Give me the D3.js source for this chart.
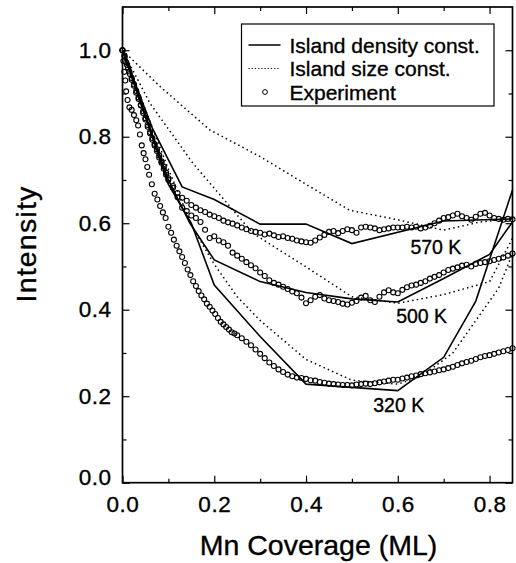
<!DOCTYPE html>
<html>
<head>
<meta charset="utf-8">
<script src="https://cdn.jsdelivr.net/npm/d3@7"></script>
<style>
  body { margin: 0; background: #fff; }
  svg { font-family: "Liberation Sans", Arial, Helvetica, sans-serif; }
  svg text { fill: #000; stroke: #000; stroke-width: 0.35px; }
  .axis path { display: none; }
  .axis line { stroke: #000; stroke-width: 1.2; }
  .axis text { font-size: 22.5px; letter-spacing: 0.5px; }
</style>
</head>
<body>
<div id="chart"></div>
<script>
(function () {
  // experiment points [coverage, intensity]
  const exp320 = [
    [0.000, 1.000], [0.002, 0.975], [0.004, 0.950], [0.006, 0.930], [0.008, 0.905],
    [0.011, 0.885], [0.015, 0.868], [0.020, 0.862], [0.025, 0.850], [0.030, 0.838],
    [0.034, 0.826], [0.038, 0.805], [0.042, 0.780], [0.046, 0.762], [0.050, 0.748],
    [0.054, 0.730], [0.058, 0.712], [0.064, 0.690], [0.070, 0.668], [0.076, 0.655],
    [0.082, 0.640], [0.088, 0.625], [0.094, 0.612], [0.100, 0.592], [0.106, 0.578],
    [0.112, 0.562], [0.118, 0.548], [0.124, 0.535], [0.130, 0.522], [0.136, 0.508],
    [0.142, 0.493], [0.148, 0.480], [0.154, 0.466], [0.160, 0.455], [0.166, 0.443],
    [0.172, 0.433], [0.178, 0.424], [0.184, 0.414], [0.190, 0.407], [0.196, 0.398],
    [0.202, 0.390], [0.208, 0.381], [0.214, 0.372], [0.220, 0.366], [0.226, 0.360],
    [0.232, 0.354], [0.238, 0.348], [0.244, 0.345], [0.250, 0.341], [0.260, 0.334],
    [0.270, 0.326], [0.280, 0.318], [0.290, 0.308], [0.300, 0.298], [0.310, 0.288],
    [0.320, 0.278], [0.330, 0.270], [0.340, 0.262], [0.350, 0.256], [0.360, 0.250],
    [0.370, 0.246], [0.380, 0.243], [0.390, 0.242], [0.400, 0.240], [0.410, 0.237],
    [0.420, 0.236], [0.430, 0.233], [0.440, 0.231], [0.450, 0.229], [0.460, 0.228],
    [0.470, 0.227], [0.480, 0.226], [0.490, 0.226], [0.500, 0.225], [0.510, 0.227],
    [0.520, 0.228], [0.530, 0.229], [0.540, 0.228], [0.550, 0.230], [0.560, 0.232],
    [0.570, 0.234], [0.580, 0.236], [0.590, 0.238], [0.600, 0.238], [0.610, 0.241],
    [0.620, 0.243], [0.630, 0.246], [0.640, 0.248], [0.650, 0.251], [0.660, 0.253],
    [0.670, 0.255], [0.680, 0.257], [0.690, 0.260], [0.700, 0.262], [0.710, 0.265],
    [0.720, 0.268], [0.730, 0.272], [0.740, 0.276], [0.750, 0.279], [0.760, 0.282],
    [0.770, 0.286], [0.780, 0.290], [0.790, 0.293], [0.800, 0.295], [0.810, 0.298],
    [0.820, 0.301], [0.830, 0.304], [0.840, 0.307], [0.850, 0.311]
  ];
  const exp500 = [
    [0.000, 1.000], [0.004, 0.988], [0.008, 0.972], [0.012, 0.960], [0.016, 0.945],
    [0.020, 0.932], [0.025, 0.918], [0.030, 0.902], [0.035, 0.887], [0.040, 0.872],
    [0.045, 0.855], [0.050, 0.840], [0.055, 0.823], [0.060, 0.808], [0.065, 0.793],
    [0.070, 0.780], [0.075, 0.767], [0.080, 0.752], [0.085, 0.740], [0.090, 0.726],
    [0.095, 0.712], [0.100, 0.700], [0.110, 0.682], [0.120, 0.660], [0.130, 0.636],
    [0.140, 0.628], [0.150, 0.618], [0.160, 0.612], [0.170, 0.603], [0.180, 0.585],
    [0.190, 0.566], [0.200, 0.570], [0.210, 0.560], [0.220, 0.556], [0.230, 0.548],
    [0.240, 0.532], [0.250, 0.525], [0.260, 0.518], [0.270, 0.510], [0.280, 0.503],
    [0.290, 0.496], [0.300, 0.486], [0.310, 0.478], [0.320, 0.468], [0.330, 0.462],
    [0.340, 0.458], [0.350, 0.453], [0.360, 0.448], [0.370, 0.442], [0.380, 0.438],
    [0.390, 0.428], [0.400, 0.415], [0.410, 0.422], [0.420, 0.430], [0.430, 0.434],
    [0.440, 0.426], [0.450, 0.422], [0.460, 0.420], [0.470, 0.418], [0.480, 0.414],
    [0.490, 0.412], [0.500, 0.416], [0.510, 0.420], [0.520, 0.428], [0.530, 0.432],
    [0.540, 0.422], [0.550, 0.418], [0.560, 0.430], [0.570, 0.440], [0.580, 0.445],
    [0.590, 0.440], [0.600, 0.438], [0.610, 0.446], [0.620, 0.452], [0.630, 0.456],
    [0.640, 0.458], [0.650, 0.462], [0.660, 0.466], [0.670, 0.472], [0.680, 0.476],
    [0.690, 0.480], [0.700, 0.486], [0.710, 0.492], [0.720, 0.495], [0.730, 0.498],
    [0.740, 0.502], [0.750, 0.504], [0.760, 0.500], [0.770, 0.506], [0.780, 0.508],
    [0.790, 0.510], [0.800, 0.512], [0.810, 0.515], [0.820, 0.518], [0.830, 0.521],
    [0.840, 0.525], [0.850, 0.530]
  ];
  const exp570 = [
    [0.000, 1.000], [0.005, 0.985], [0.010, 0.966], [0.015, 0.951], [0.020, 0.936],
    [0.025, 0.921], [0.030, 0.906], [0.035, 0.891], [0.040, 0.874], [0.045, 0.859],
    [0.050, 0.843], [0.055, 0.827], [0.060, 0.811], [0.065, 0.797], [0.070, 0.783],
    [0.075, 0.771], [0.080, 0.757], [0.085, 0.743], [0.090, 0.731], [0.095, 0.717],
    [0.100, 0.704], [0.110, 0.686], [0.120, 0.670], [0.130, 0.659], [0.140, 0.652],
    [0.150, 0.642], [0.160, 0.636], [0.170, 0.630], [0.180, 0.626], [0.190, 0.620],
    [0.200, 0.616], [0.210, 0.612], [0.220, 0.606], [0.230, 0.602], [0.240, 0.599],
    [0.250, 0.595], [0.260, 0.590], [0.270, 0.586], [0.280, 0.582], [0.290, 0.580],
    [0.300, 0.578], [0.310, 0.574], [0.320, 0.576], [0.330, 0.572], [0.340, 0.568],
    [0.350, 0.570], [0.360, 0.566], [0.370, 0.564], [0.380, 0.560], [0.390, 0.558],
    [0.400, 0.556], [0.410, 0.555], [0.420, 0.560], [0.430, 0.567], [0.440, 0.573],
    [0.450, 0.580], [0.460, 0.582], [0.470, 0.577], [0.480, 0.582], [0.490, 0.586],
    [0.500, 0.584], [0.510, 0.578], [0.520, 0.590], [0.530, 0.592], [0.540, 0.590],
    [0.550, 0.588], [0.560, 0.584], [0.570, 0.586], [0.580, 0.588], [0.590, 0.590],
    [0.600, 0.590], [0.610, 0.590], [0.620, 0.592], [0.630, 0.590], [0.640, 0.592],
    [0.650, 0.588], [0.660, 0.590], [0.670, 0.594], [0.680, 0.600], [0.690, 0.606],
    [0.700, 0.612], [0.710, 0.614], [0.720, 0.618], [0.730, 0.622], [0.740, 0.616],
    [0.750, 0.612], [0.760, 0.608], [0.770, 0.615], [0.780, 0.622], [0.790, 0.624],
    [0.800, 0.618], [0.810, 0.612], [0.820, 0.610], [0.830, 0.608], [0.840, 0.610],
    [0.850, 0.609]
  ];

  // island density const. (solid)
  const dens320 = [[0, 1.0], [0.10, 0.69], [0.15, 0.60], [0.20, 0.457], [0.30, 0.338],
    [0.40, 0.228], [0.60, 0.213], [0.70, 0.290], [0.77, 0.420], [0.85, 0.677]];
  const dens500 = [[0, 1.0], [0.10, 0.70], [0.147, 0.60], [0.20, 0.515], [0.30, 0.465],
    [0.40, 0.440], [0.50, 0.425], [0.60, 0.418], [0.70, 0.472], [0.80, 0.528], [0.85, 0.603]];
  const dens570 = [[0, 1.0], [0.065, 0.82], [0.13, 0.684], [0.20, 0.655], [0.30, 0.598],
    [0.40, 0.598], [0.50, 0.553], [0.70, 0.605], [0.85, 0.610]];

  // island size const. (dotted)
  const size320 = [[0, 1.0], [0.10, 0.725], [0.154, 0.588], [0.20, 0.505], [0.25, 0.430],
    [0.30, 0.375], [0.40, 0.285], [0.50, 0.237], [0.60, 0.228], [0.65, 0.245],
    [0.72, 0.300], [0.82, 0.450], [0.85, 0.530]];
  const size500 = [[0, 1.0], [0.06, 0.877], [0.154, 0.738], [0.241, 0.630], [0.284, 0.577],
    [0.40, 0.499], [0.50, 0.430], [0.60, 0.415], [0.70, 0.435], [0.80, 0.465], [0.85, 0.565]];
  const size570 = [[0, 1.0], [0.082, 0.916], [0.19, 0.816], [0.30, 0.754], [0.40, 0.690],
    [0.495, 0.630], [0.60, 0.608], [0.70, 0.584], [0.78, 0.603], [0.85, 0.611]];

  const tempLabels = [
    { text: "570 K", at: [0.683, 0.529] },
    { text: "500 K", at: [0.652, 0.370] },
    { text: "320 K", at: [0.602, 0.163] }
  ];
  const legendItems = ["Island density const.", "Island size const.", "Experiment"];
  const xMajor = [0, 0.2, 0.4, 0.6, 0.8];
  const xMinor = [0.1, 0.3, 0.5, 0.7];
  const yMajor = [0, 0.2, 0.4, 0.6, 0.8, 1.0];
  const yMinor = [0.1, 0.3, 0.5, 0.7, 0.9];

  const W = 516, H = 563;
  const left = 122.5, right = 512.5, top = 7, bottom = 482.7;

  const x = d3.scaleLinear().domain([0, 0.85]).range([left, right]);
  const y = d3.scaleLinear().domain([0, 1.1]).range([bottom, top]);
  const fmt = d3.format(".1f");

  const svg = d3.select("#chart").append("svg")
    .attr("width", W).attr("height", H);

  // ticks, all pointing inward
  function ticks(axisFn, scale, values, size, pos, labels, pad) {
    const g = svg.append("g").attr("class", "axis")
      .attr("transform", pos)
      .call(axisFn(scale).tickValues(values).tickSize(-size)
        .tickPadding(pad || 0)
        .tickFormat(labels ? fmt : ""));
    return g;
  }
  ticks(d3.axisBottom, x, xMajor, 7, `translate(0,${bottom})`, true, 13);
  ticks(d3.axisBottom, x, xMinor, 4, `translate(0,${bottom})`, false);
  ticks(d3.axisTop, x, xMajor, 7, `translate(0,${top})`, false);
  ticks(d3.axisTop, x, xMinor, 4, `translate(0,${top})`, false);
  const yl = ticks(d3.axisLeft, y, yMajor, 7, `translate(${left},0)`, true, 11);
  yl.selectAll("text").filter(d => d === 0).attr("dy", "0.1em");
  ticks(d3.axisLeft, y, yMinor, 4, `translate(${left},0)`, false);
  ticks(d3.axisRight, y, yMajor, 7, `translate(${right},0)`, false);
  ticks(d3.axisRight, y, yMinor, 4, `translate(${right},0)`, false);

  svg.append("rect")
    .attr("x", left).attr("y", top)
    .attr("width", right - left).attr("height", bottom - top)
    .attr("fill", "none").attr("stroke", "#000").attr("stroke-width", 1.7);

  const plot = svg.append("g");
  const line = d3.line().x(d => x(d[0])).y(d => y(d[1]));

  [size320, size500, size570].forEach(s => {
    plot.append("path").datum(s)
      .attr("d", line).attr("fill", "none")
      .attr("stroke", "#000").attr("stroke-width", 1.5)
      .attr("stroke-dasharray", "1.5,3.2");
  });
  [dens320, dens500, dens570].forEach(s => {
    plot.append("path").datum(s)
      .attr("d", line).attr("fill", "none")
      .attr("stroke", "#000").attr("stroke-width", 1.6);
  });
  [exp320, exp500, exp570].forEach(s => {
    plot.append("g").selectAll("circle").data(s).join("circle")
      .attr("cx", d => x(d[0])).attr("cy", d => y(d[1]))
      .attr("r", 2.5)
      .attr("fill", "none").attr("stroke", "#000").attr("stroke-width", 1.1);
  });

  plot.selectAll(".tlabel").data(tempLabels).join("text")
    .attr("class", "tlabel")
    .attr("x", d => x(d.at[0])).attr("y", d => y(d.at[1]))
    .attr("text-anchor", "middle")
    .attr("font-size", 19.5)
    .text(d => d.text);

  // legend
  const lg = svg.append("g").attr("transform", "translate(241.5,24)");
  lg.append("rect").attr("width", 252.5).attr("height", 82)
    .attr("fill", "#fff").attr("stroke", "#000").attr("stroke-width", 1.2);
  legendItems.forEach((t, i) => {
    const cy = 21 + i * 23.5;
    if (i === 0) {
      lg.append("line").attr("x1", 7).attr("x2", 39).attr("y1", cy).attr("y2", cy)
        .attr("stroke", "#000").attr("stroke-width", 1.5);
    } else if (i === 1) {
      lg.append("line").attr("x1", 7).attr("x2", 39).attr("y1", cy).attr("y2", cy)
        .attr("stroke", "#000").attr("stroke-width", 1.2).attr("stroke-dasharray", "1.2,2");
    } else {
      lg.append("circle").attr("cx", 23.5).attr("cy", cy).attr("r", 2.4)
        .attr("fill", "none").attr("stroke", "#000");
    }
    lg.append("text").attr("x", 48).attr("y", cy).attr("dy", "0.36em")
      .attr("font-size", 21).text(t);
  });

  // axis titles
  svg.append("text")
    .attr("x", (left + right) / 2 + 1).attr("y", 555)
    .attr("text-anchor", "middle").attr("font-size", 28.5)
    .text("Mn Coverage (ML)");
  svg.append("text")
    .attr("transform", `translate(36,${244}) rotate(-90)`)
    .attr("text-anchor", "middle").attr("font-size", 28.5)
    .attr("letter-spacing", 1.2)
    .text("Intensity");
})();
</script>
</body>
</html>
